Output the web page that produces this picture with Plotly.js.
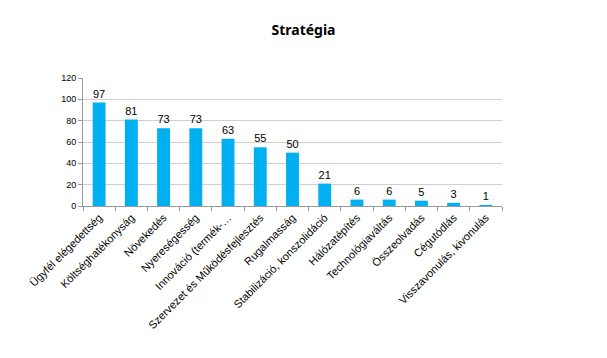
<!DOCTYPE html>
<html><head><meta charset="utf-8">
<script src="https://cdn.plot.ly/plotly-3.0.1.min.js"></script>
<style>body{margin:0;background:#fff}#c{width:607px;height:358px}</style>
</head><body><div id="c"></div>
<script>
const categories = ["Ügyfél elégedettség","Költséghatékonyság","Növekedés","Nyereségesség","Innováció (termék-…","Szervezet és Működésfejlesztés","Rugalmasság","Stabilizáció, konszolidáció","Hálózatépítés","Technológiaváltás","Összeolvadás","Cégutódlás","Visszavonulás, kivonulás"];
const values = [97,81,73,73,63,55,50,21,6,6,5,3,1];
const yTicks = [0,20,40,60,80,100,120];

Plotly.newPlot('c', [{
  type: 'bar', x: categories, y: values,
  marker: {color: '#00b0f0'},
  text: values.map(String), textposition: 'outside', cliponaxis: false,
  textfont: {family: 'Liberation Sans, Arial, sans-serif', size: 11, color: '#000'}
}], {
  width: 607, height: 358,
  margin: {l: 83, r: 105, t: 78, b: 152},
  paper_bgcolor: '#fff', plot_bgcolor: '#fff',
  title: {text: 'Stratégia', x: 0.5, xanchor: 'center', y: 0.915, yanchor: 'middle',
    font: {family: 'Noto Sans, sans-serif', size: 14, color: '#000', weight: 'bold'}},
  bargap: 0.6, showlegend: false,
  xaxis: {tickangle: -45, ticks: 'outside', tickson: 'boundaries', ticklen: 4, tickcolor: '#999',
    showline: true, linecolor: '#999', linewidth: 1, showgrid: false,
    tickfont: {family: 'Liberation Sans, Arial, sans-serif', size: 11, color: '#000'}},
  yaxis: {range: [0, 120], tickvals: yTicks, ticktext: yTicks.map(String),
    ticks: 'outside', ticklen: 4, tickcolor: '#999',
    showline: true, linecolor: '#999', gridcolor: '#d0d0d0', zeroline: false,
    tickfont: {family: 'Liberation Sans, Arial, sans-serif', size: 9, color: '#000'}}
}, {staticPlot: true});
</script></body></html>
